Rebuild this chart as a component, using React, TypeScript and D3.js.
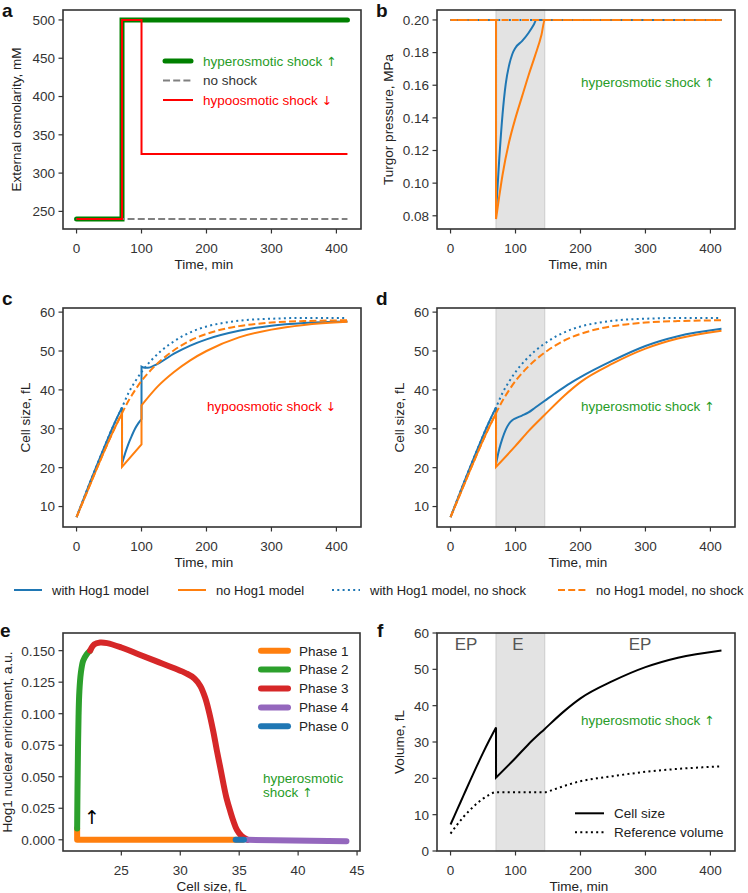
import * as d3 from "d3";

// ---------- data ----------
const timeTicks = [0, 100, 200, 300, 400];

// panel a: external osmolarity (mM)
const hyperT = [0, 70, 70, 417];
const hyperOsm = [240, 240, 500, 500];
const noShockT = [0, 417];
const noShockOsm = [240, 240];
const hypoT = [0, 70, 70, 100, 100, 417];
const hypoOsm = [240, 240, 500, 500, 325, 325];

// panel b: turgor pressure (MPa)
const turgorBlueT = [0, 70, 70, 75, 80, 85, 90, 95, 100, 110, 120, 128, 132, 417];
const turgorBlue = [0.2, 0.2, 0.082, 0.115, 0.142, 0.161, 0.172, 0.179, 0.183, 0.187, 0.192, 0.197, 0.2, 0.2];
const turgorOrangeT = [0, 70, 70, 75, 80, 90, 100, 110, 120, 130, 140, 145, 417];
const turgorOrange = [0.2, 0.2, 0.078, 0.092, 0.105, 0.125, 0.14, 0.153, 0.166, 0.178, 0.191, 0.2, 0.2];
const turgorNoShockT = [0, 417];
const turgorNoShock = [0.2, 0.2];

// growth before the shock (fL)
const growT = [0, 10, 20, 30, 40, 50, 60, 70];
const growBlue = [7.3, 11.6, 15.9, 20.1, 24.2, 28.2, 32.0, 35.5];
const growOrange = [7.3, 11.3, 15.3, 19.3, 23.2, 27.0, 30.6, 34.0];

// no shock continuation
const contT = [80, 90, 100, 115, 130, 150, 175, 200, 225, 250, 300, 350, 417];
const contBlue = [39.2, 42.1, 44.6, 47.6, 50.0, 52.5, 54.8, 56.3, 57.2, 57.8, 58.3, 58.5, 58.5];
const contOrange = [37.2, 39.9, 42.3, 45.2, 47.6, 50.2, 52.7, 54.4, 55.6, 56.4, 57.3, 57.7, 57.9];

// panel c: hypoosmotic shock
const hypoBlueT = [70, 75, 80, 85, 90, 95, 100, 100, 105, 110, 120, 130, 150, 175, 200, 250, 300, 350, 417];
const hypoBlue = [21, 23.8, 26.2, 28.2, 30, 31.4, 32.5, 46, 45.7, 45.7, 46.3, 47.2, 49.3, 51.4, 53, 55.2, 56.5, 57.2, 57.6];
const hypoOrangeT = [70, 100, 100, 125, 150, 175, 200, 250, 300, 350, 417];
const hypoOrange = [20.2, 26, 36, 40.9, 44.6, 47.6, 50, 53.5, 55.5, 56.7, 57.5];

// panel d: hyperosmotic shock
const hyperBlueT = [70, 75, 80, 85, 90, 95, 100, 110, 120, 130, 145, 160, 180, 200, 250, 300, 350, 417];
const hyperBlue = [21, 24.8, 27.6, 29.8, 31.3, 32.2, 32.7, 33.4, 34.2, 35.4, 37.2, 39, 41.3, 43.3, 47.6, 51.3, 53.8, 55.7];
const hyperOrangeT = [70, 100, 120, 145, 175, 200, 250, 300, 350, 417];
const hyperOrange = [20.2, 25.6, 29.4, 33.6, 38.5, 42, 46.8, 50.6, 53.2, 55.2];

// panel e: Hog1 enrichment vs cell size
const phase1X = [35.3, 21.25, 21.25];
const phase1Y = [0, 0, 0.009];
const phase2X = [21.25, 21.28, 21.32, 21.37, 21.44, 21.56, 21.76, 22.05, 22.35];
const phase2Y = [0.009, 0.04, 0.07, 0.098, 0.118, 0.132, 0.142, 0.147, 0.15];
const phase3X = [22.35, 22.7, 23.2, 23.8, 25, 26.5, 28, 29.5, 30.5, 31.2, 31.7, 32.1, 32.4, 32.8, 33.1, 33.4, 33.65, 33.9, 34.2, 34.5, 34.8, 35.2, 35.7];
const phase3Y = [0.15, 0.155, 0.1565, 0.156, 0.1525, 0.147, 0.1415, 0.136, 0.132, 0.128, 0.122, 0.113, 0.103, 0.086, 0.071, 0.057, 0.045, 0.034, 0.024, 0.015, 0.008, 0.003, 0];
const phase4X = [35.7, 38, 41, 44.1];
const phase4Y = [0, -0.0004, -0.0008, -0.0012];
const phase0X = [34.7, 35.4];
const phase0Y = [0, 0];
const phaseNames = ["Phase 1", "Phase 2", "Phase 3", "Phase 4", "Phase 0"];

// panel f: reference volume
const refT = [0, 10, 20, 30, 40, 50, 60, 70, 145, 160, 180, 200, 225, 250, 300, 350, 417];
const refVol = [4.8, 7.2, 9.4, 11.3, 13, 14.4, 15.5, 16.2, 16.2, 17, 18.2, 19.2, 20, 20.6, 21.8, 22.6, 23.3];

const legendNames = ["with Hog1 model", "no Hog1 model", "with Hog1 model, no shock", "no Hog1 model, no shock"];

// ---------- styles ----------
const BLUE = "#1f77b4";
const ORANGE = "#ff7f0e";
const GREEN_TXT = "#279c27";
const FONT = "'Liberation Sans', Arial, sans-serif";
const ARROW_FONT = "'DejaVu Sans', sans-serif";
const AX = "#333";
const DOT = "2,3.3";
const DASH = "7,3.2";

// joins smooth pieces, repeated x means a jump
function pathOf(xs, ys, xv, yv, curve = d3.curveMonotoneX) {
  const pieces = [];
  let cur = [];
  xv.forEach((x, i) => {
    if (cur.length && x === cur[cur.length - 1][0]) {
      pieces.push(cur);
      cur = [];
    }
    cur.push([x, yv[i]]);
  });
  pieces.push(cur);
  const line = d3.line().x(d => xs(d[0])).y(d => ys(d[1])).curve(curve);
  return pieces
    .map((p, i) => {
      const s = p.length === 1 ? `M${xs(p[0][0])},${ys(p[0][1])}` : line(p);
      return i === 0 ? s : "L" + s.slice(1);
    })
    .join("");
}

const Arrow = ({ ch }) => <tspan fontFamily={ARROW_FONT} fontSize={12.5}>{ch}</tspan>;

const Axes = ({ id, box, xDom, yDom, xTicks, yTicks, yFmt, xLabel, xLabelDx = 0, yLabel, yLabelX, letter, letterX, letterY, shade, children }) => {
  const xs = d3.scaleLinear().domain(xDom).range([box.x0, box.x1]);
  const ys = d3.scaleLinear().domain(yDom).range([box.y1, box.y0]);
  const fmt = yFmt ? d3.format(yFmt) : d => String(d);
  return (
    <g>
      <clipPath id={id}>
        <rect x={box.x0} y={box.y0} width={box.x1 - box.x0} height={box.y1 - box.y0} />
      </clipPath>
      {shade && (
        <rect x={xs(shade[0])} y={box.y0} width={xs(shade[1]) - xs(shade[0])} height={box.y1 - box.y0}
          fill="#e3e3e3" stroke="#cccccc" strokeWidth={1} />
      )}
      <g clipPath={`url(#${id})`}>{children(xs, ys)}</g>
      <rect x={box.x0} y={box.y0} width={box.x1 - box.x0} height={box.y1 - box.y0} fill="none" stroke={AX} strokeWidth={1.6} />
      {xTicks.map(t => (
        <g key={"x" + t}>
          <line x1={xs(t)} x2={xs(t)} y1={box.y1} y2={box.y1 + 4.5} stroke={AX} strokeWidth={1.2} />
          <text x={xs(t)} y={box.y1 + 23.5} textAnchor="middle" fontSize={13.5} fill={AX}>{t}</text>
        </g>
      ))}
      {yTicks.map(t => (
        <g key={"y" + t}>
          <line x1={box.x0 - 4.5} x2={box.x0} y1={ys(t)} y2={ys(t)} stroke={AX} strokeWidth={1.2} />
          <text x={box.x0 - 8} y={ys(t)} dy="0.36em" textAnchor="end" fontSize={13.5} fill={AX}>{fmt(t)}</text>
        </g>
      ))}
      <text x={(box.x0 + box.x1) / 2 + xLabelDx} y={box.y1 + 40} textAnchor="middle" fontSize={13.5} fill="#222">{xLabel}</text>
      <text transform={`translate(${yLabelX},${(box.y0 + box.y1) / 2}) rotate(-90)`} textAnchor="middle" dy="0.36em" fontSize={13.5} fill="#222">{yLabel}</text>
      <text x={letterX} y={letterY} fontSize={19} fontWeight="bold" fill="#111">{letter}</text>
    </g>
  );
};

const SizeLines = ({ xs, ys, blueT, blueV, orangeT, orangeV }) => (
  <g fill="none" strokeWidth={2}>
    <path d={pathOf(xs, ys, [...growT, ...blueT], [...growBlue, ...blueV])} stroke={BLUE} />
    <path d={pathOf(xs, ys, [...growT, ...orangeT], [...growOrange, ...orangeV])} stroke={ORANGE} />
    <path d={pathOf(xs, ys, [...growT, ...contT], [...growBlue, ...contBlue])} stroke={BLUE} strokeDasharray={DOT} />
    <path d={pathOf(xs, ys, [...growT, ...contT], [...growOrange, ...contOrange])} stroke={ORANGE} strokeDasharray={DASH} />
  </g>
);

export default function App() {
  const boxA = { x0: 63, x1: 361, y0: 10, y1: 229 };
  const boxB = { x0: 437, x1: 735, y0: 10, y1: 229 };
  const boxC = { x0: 63, x1: 361, y0: 308, y1: 527 };
  const boxD = { x0: 437, x1: 735, y0: 308, y1: 527 };
  const boxE = { x0: 63, x1: 360, y0: 633, y1: 851 };
  const boxF = { x0: 437, x1: 735, y0: 633, y1: 851 };
  const tDom = [-20.85, 437.85];
  const sizeDom = [4.74, 61.06];
  const sizeTicks = [10, 20, 30, 40, 50, 60];
  const phaseColors = [ORANGE, "#2ca02c", "#d62728", "#9467bd", BLUE];
  const legendStyles = [
    { c: BLUE, dash: null },
    { c: ORANGE, dash: null },
    { c: BLUE, dash: DOT },
    { c: ORANGE, dash: DASH },
  ];
  const legendX = [14, 178, 332, 558];

  return (
    <svg width={748} height={893} style={{ position: "absolute", left: 0, top: 0, background: "#fff" }} fontFamily={FONT}>
      <rect width={748} height={893} fill="#fff" />

      {/* a */}
      <Axes id="clipA" box={boxA} xDom={tDom} yDom={[227, 513]} xTicks={timeTicks} yTicks={[250, 300, 350, 400, 450, 500]}
        xLabel="Time, min" xLabelDx={-8} yLabel="External osmolarity, mM" yLabelX={16} letter="a" letterX={2} letterY={17}>
        {(xs, ys) => (
          <g fill="none">
            <path d={pathOf(xs, ys, hyperT, hyperOsm, d3.curveLinear)} stroke="#008000" strokeWidth={5} strokeLinecap="round" />
            <path d={pathOf(xs, ys, noShockT, noShockOsm, d3.curveLinear)} stroke="#808080" strokeWidth={2} strokeDasharray={DASH} />
            <path d={pathOf(xs, ys, hypoT, hypoOsm, d3.curveLinear)} stroke="#ff0000" strokeWidth={2} />
          </g>
        )}
      </Axes>
      <g fontSize={13.5}>
        <line x1={165} x2={191} y1={61} y2={61} stroke="#008000" strokeWidth={5} strokeLinecap="round" />
        <text x={203} y={61} dy="0.36em" fill={GREEN_TXT}>hyperosmotic shock <Arrow ch="↑" /></text>
        <line x1={163} x2={193} y1={80.5} y2={80.5} stroke="#808080" strokeWidth={2} strokeDasharray={DASH} />
        <text x={203} y={80.5} dy="0.36em" fill="#333">no shock</text>
        <line x1={163} x2={193} y1={100} y2={100} stroke="#ff0000" strokeWidth={2} />
        <text x={203} y={100} dy="0.36em" fill="#ff0000">hypoosmotic shock <Arrow ch="↓" /></text>
      </g>

      {/* b */}
      <Axes id="clipB" box={boxB} xDom={tDom} yDom={[0.0719, 0.2061]} xTicks={timeTicks} yTicks={[0.08, 0.1, 0.12, 0.14, 0.16, 0.18, 0.2]}
        yFmt=".2f" xLabel="Time, min" xLabelDx={-8} yLabel="Turgor pressure, MPa" yLabelX={388} letter="b" letterX={376} letterY={17} shade={[70, 145]}>
        {(xs, ys) => (
          <g fill="none" strokeWidth={2}>
            <path d={pathOf(xs, ys, turgorBlueT, turgorBlue)} stroke={BLUE} />
            <path d={pathOf(xs, ys, turgorOrangeT, turgorOrange)} stroke={ORANGE} />
            <path d={pathOf(xs, ys, turgorNoShockT, turgorNoShock, d3.curveLinear)} stroke={BLUE} strokeDasharray={DOT} />
            <path d={pathOf(xs, ys, turgorNoShockT, turgorNoShock, d3.curveLinear)} stroke={ORANGE} strokeDasharray={DASH} />
          </g>
        )}
      </Axes>
      <text x={581} y={82} dy="0.36em" fontSize={13.5} fill={GREEN_TXT}>hyperosmotic shock <Arrow ch="↑" /></text>

      {/* c */}
      <Axes id="clipC" box={boxC} xDom={tDom} yDom={sizeDom} xTicks={timeTicks} yTicks={sizeTicks}
        xLabel="Time, min" xLabelDx={-8} yLabel="Cell size, fL" yLabelX={25} letter="c" letterX={2} letterY={305}>
        {(xs, ys) => <SizeLines xs={xs} ys={ys} blueT={hypoBlueT} blueV={hypoBlue} orangeT={hypoOrangeT} orangeV={hypoOrange} />}
      </Axes>
      <text x={207} y={406} dy="0.36em" fontSize={13.5} fill="#ff0000">hypoosmotic shock <Arrow ch="↓" /></text>

      {/* d */}
      <Axes id="clipD" box={boxD} xDom={tDom} yDom={sizeDom} xTicks={timeTicks} yTicks={sizeTicks}
        xLabel="Time, min" xLabelDx={-8} yLabel="Cell size, fL" yLabelX={399} letter="d" letterX={376} letterY={305} shade={[70, 145]}>
        {(xs, ys) => <SizeLines xs={xs} ys={ys} blueT={hyperBlueT} blueV={hyperBlue} orangeT={hyperOrangeT} orangeV={hyperOrange} />}
      </Axes>
      <text x={581} y={406} dy="0.36em" fontSize={13.5} fill={GREEN_TXT}>hyperosmotic shock <Arrow ch="↑" /></text>

      {/* shared legend */}
      <g fontSize={13}>
        {legendNames.map((n, i) => (
          <g key={n}>
            <line x1={legendX[i]} x2={legendX[i] + 28} y1={590} y2={590} stroke={legendStyles[i].c} strokeWidth={2}
              strokeDasharray={legendStyles[i].dash || undefined} />
            <text x={legendX[i] + 38} y={590} dy="0.36em" fill="#222">{n}</text>
          </g>
        ))}
      </g>

      {/* e */}
      <Axes id="clipE" box={boxE} xDom={[20.05, 45.25]} yDom={[-0.0089, 0.164]} xTicks={[25, 30, 35, 40, 45]}
        yTicks={[0, 0.025, 0.05, 0.075, 0.1, 0.125, 0.15]} yFmt=".3f" xLabel="Cell size, fL" yLabel="Hog1 nuclear enrichment, a.u."
        yLabelX={7} letter="e" letterX={0} letterY={637}>
        {(xs, ys) => (
          <g fill="none" strokeWidth={6} strokeLinecap="round" strokeLinejoin="round">
            <path d={pathOf(xs, ys, phase1X, phase1Y, d3.curveLinear)} stroke={phaseColors[0]} />
            <path d={d3.line().x(d => xs(d[0])).y(d => ys(d[1])).curve(d3.curveCatmullRom)(phase2X.map((x, i) => [x, phase2Y[i]]))} stroke={phaseColors[1]} />
            <path d={d3.line().x(d => xs(d[0])).y(d => ys(d[1])).curve(d3.curveCatmullRom)(phase3X.map((x, i) => [x, phase3Y[i]]))} stroke={phaseColors[2]} />
            <path d={pathOf(xs, ys, phase4X, phase4Y, d3.curveLinear)} stroke={phaseColors[3]} />
            <path d={pathOf(xs, ys, phase0X, phase0Y, d3.curveLinear)} stroke={phaseColors[4]} />
          </g>
        )}
      </Axes>
      <g fontSize={13.5}>
        {phaseNames.map((n, i) => (
          <g key={n}>
            <line x1={261} x2={288} y1={650.7 + i * 18.9} y2={650.7 + i * 18.9} stroke={phaseColors[i]} strokeWidth={6} strokeLinecap="round" />
            <text x={299} y={650.7 + i * 18.9} dy="0.36em" fill="#222">{n}</text>
          </g>
        ))}
        <text x={263} y={778} dy="0.36em" fill={GREEN_TXT}>hyperosmotic</text>
        <text x={263} y={792.5} dy="0.36em" fill={GREEN_TXT}>shock <Arrow ch="↑" /></text>
        <text x={92} y={817} dy="0.36em" textAnchor="middle" fontFamily={ARROW_FONT} fontSize={19} fill="#000">↑</text>
      </g>

      {/* f */}
      <Axes id="clipF" box={boxF} xDom={tDom} yDom={[0, 60]} xTicks={timeTicks} yTicks={[0, 10, 20, 30, 40, 50, 60]}
        xLabel="Time, min" xLabelDx={-7} yLabel="Volume, fL" yLabelX={399} letter="f" letterX={377} letterY={637} shade={[70, 145]}>
        {(xs, ys) => (
          <g fill="none" strokeWidth={2} stroke="#000">
            <path d={pathOf(xs, ys, [...growT, ...hyperOrangeT], [...growOrange, ...hyperOrange])} />
            <path d={pathOf(xs, ys, refT, refVol)} strokeDasharray={DOT} />
          </g>
        )}
      </Axes>
      <g fontSize={17} fill="#555" textAnchor="middle">
        <text x={466} y={644} dy="0.36em">EP</text>
        <text x={518} y={644} dy="0.36em">E</text>
        <text x={640} y={644} dy="0.36em">EP</text>
      </g>
      <text x={581} y={720} dy="0.36em" fontSize={13.5} fill={GREEN_TXT}>hyperosmotic shock <Arrow ch="↑" /></text>
      <g fontSize={13.5}>
        <line x1={575} x2={604} y1={813.3} y2={813.3} stroke="#000" strokeWidth={2} />
        <text x={614} y={813.3} dy="0.36em" fill="#222">Cell size</text>
        <line x1={575} x2={604} y1={832.3} y2={832.3} stroke="#000" strokeWidth={2} strokeDasharray={DOT} />
        <text x={614} y={832.3} dy="0.36em" fill="#222">Reference volume</text>
      </g>
    </svg>
  );
}
